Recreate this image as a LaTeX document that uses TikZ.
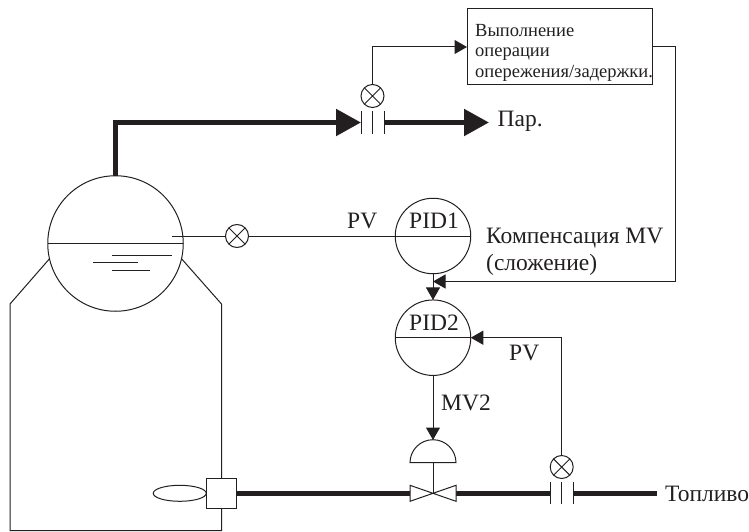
\documentclass[tikz,border=0pt]{standalone}
\usepackage{fontspec}
\setmainfont{Liberation Serif}
\usetikzlibrary{positioning,arrows.meta,calc,shapes.geometric}
\definecolor{linec}{RGB}{35,31,32}
\tikzset{
  thin line/.style = {draw=linec, line width=1pt},
  pipe/.style      = {draw=linec, line width=5.2pt},
  pipearrow/.style = {pipe, -{Triangle[length=25pt,width=26pt]}},
  signal/.style    = {thin line, -{Triangle[length=12.5pt,width=14pt]}},
  ctrl/.style      = {thin line, circle, minimum size=75.5pt, inner sep=0pt, outer sep=0pt},
  sensor/.style    = {thin line, circle, minimum size=23pt, inner sep=0pt, outer sep=0pt},
  orifice/.style   = {minimum width=23pt, minimum height=22pt, inner sep=0pt, outer sep=0pt},
  lbl/.style       = {text=linec, font=\fontsize{23.5}{26}\selectfont, inner sep=0pt, anchor=base west},
  tasktxt/.style   = {text=linec, font=\fontsize{18.5}{20.6}\selectfont, inner sep=0pt, align=left},
}
\begin{document}
\begin{tikzpicture}[x=1pt,y=-1pt]
\useasboundingbox (0,0) rectangle (749,532);

% boiler drum and furnace
\node[thin line, circle, minimum size=135.5pt, inner sep=0pt, outer sep=0pt] (drum) at (115.5,243.5) {};
\draw[thin line] (drum.west) -- (drum.east);
\draw[thin line] (112,255) -- (172,255) (93,262.7) -- (138,262.7) (112,270) -- (150,270);
\node[thin line, minimum size=30.5pt, inner sep=0pt, outer sep=0pt] (burner) at (221.5,493.3) {};
\node[thin line, ellipse, minimum width=53pt, minimum height=16pt, inner sep=0pt, outer sep=0pt, anchor=east] (flame) at (burner.west) {};
\draw[thin line] (drum.193) -- (10,304) -- (10,530.7) -- (221.5,530.7) -- (burner.south);
\draw[thin line] (drum.347) -- (221.5,304) -- (burner.north);

% sensors and orifice plates
\node[sensor] (s1) at (237,236) {};
\node[sensor] (s2) at (372.5,96) {};
\node[sensor] (s3) at (561.7,467) {};
\node[orifice] (o1) at (372.5,122.5) {};
\node[orifice] (o2) at (561.7,493.3) {};
\foreach \s in {s1,s2,s3}
  \draw[thin line] (\s.45) -- (\s.225) (\s.135) -- (\s.315);
\foreach \o in {o1,o2}
  \draw[thin line] (\o.north west) -- (\o.south west) (\o.north) -- (\o.south) (\o.north east) -- (\o.south east);

% controllers
\node[ctrl] (pid1) at (433,236) {};
\node[ctrl] (pid2) at (433,337.7) {};
\draw[thin line] (pid1.west) -- (pid1.east);
\draw[thin line] (pid2.west) -- (pid2.east);
\node[lbl, anchor=base] (pid1t) at (434,228.3) {PID1};
\node[lbl, anchor=base] (pid2t) at (434,330.7) {PID2};

% lead/lag block
\node[thin line, minimum width=185.7pt, minimum height=76pt, inner sep=0pt, outer sep=0pt] (task) at (559.85,47) {};
\node[tasktxt, anchor=base west] (tasktxt) at (475,77.3) {Выполнение\\операции\\опережения/задержки.};

% valve and actuator
\node[minimum width=46pt, minimum height=16pt, inner sep=0pt, outer sep=0pt] (valve) at (433,493.3) {};
\coordinate (act) at (433,462.7);
\draw[thin line] ([xshift=-23pt]act) arc[start angle=180, end angle=0, radius=23pt] -- cycle;
\coordinate (acttop) at (433,440);
\draw[thin line] (act) -- (valve.center);

% steam and fuel lines
\coordinate (fuelend) at (656.7,493.3);
\coordinate (steamend) at (489,122.5);
\coordinate (bend) at (115.5,122.5);
\draw[pipe] (drum.north) -- (bend);
\draw[pipearrow] ([xshift=-2.6pt]bend) -- (o1.west);
\draw[pipearrow] (o1.east) -- (steamend);
\draw[pipe] (burner.east) -- (valve.west);
\draw[pipe] (valve.east) -- (o2.west);
\draw[pipe] (o2.east) -- (fuelend);
\draw[thin line, fill=white] (valve.north west) -- (valve.south east) -- (valve.north east) -- (valve.south west) -- cycle;

% signals
\coordinate (levelin) at (172,236);
\coordinate (c1) at (675,47);
\coordinate (c2) at (675,281.5);
\coordinate (c3) at (433,281.5);
\draw[thin line] (levelin) -- (s1.west);
\draw[thin line] (s1.east) -- (pid1.west);
\draw[signal] (s2.north) |- (task.west);
\draw[signal] (task.east) -- (c1) -- (c2) -- (c3);
\draw[signal] (pid1.south) -- (pid2.north);
\draw[signal] (s3.north) |- (pid2.east);
\draw[signal] (pid2.south) -- (acttop);

% labels
\node[lbl] (steamlbl) at (497.5,127) {Пар.};
\node[lbl] (pv1) at (347,228.3) {PV};
\node[lbl] (pv2) at (509,360.7) {PV};
\node[lbl] (comp1) at (486,243.3) {Компенсация MV};
\node[lbl] (comp2) at (486,270) {(сложение)};
\node[lbl] (mv2) at (441,410) {MV2};
\node[lbl] (fuellbl) at (665,501) {Топливо};

\end{tikzpicture}
\end{document}
